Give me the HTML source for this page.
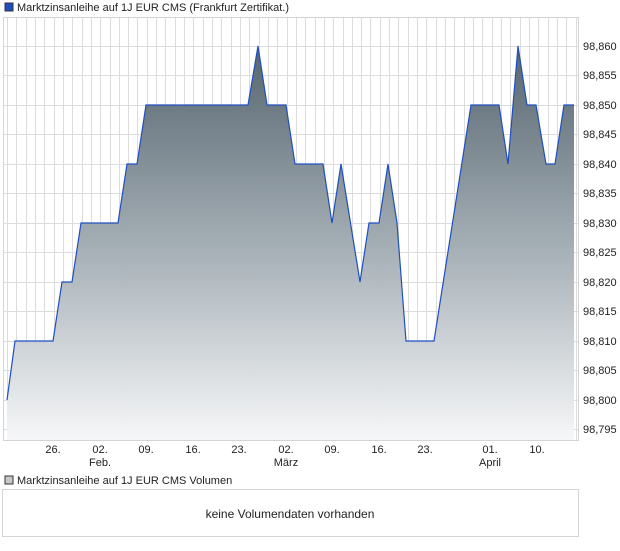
<!DOCTYPE html>
<html><head><meta charset="utf-8"><style>
body{margin:0;background:#fff;font-family:"Liberation Sans",sans-serif;}
</style></head><body>
<svg width="620" height="546" xmlns="http://www.w3.org/2000/svg" font-family="Liberation Sans, sans-serif" font-size="11">
<defs>
<linearGradient id="g" x1="0" y1="46" x2="0" y2="440" gradientUnits="userSpaceOnUse">
<stop offset="0" stop-color="#56656f"/>
<stop offset="0.5" stop-color="#a3adb4"/>
<stop offset="1" stop-color="#f6f7f8"/>
</linearGradient>
</defs>
<rect x="5" y="3" width="8" height="8" fill="#1f4fbf" stroke="#333" stroke-width="1"/>
<text x="17" y="11" fill="#222">Marktzinsanleihe auf 1J EUR CMS (Frankfurt Zertifikat.)</text>
<g stroke="#dcdcdc" stroke-width="1">
<line x1="3" x2="578" y1="46.5" y2="46.5"/><line x1="3" x2="578" y1="75.5" y2="75.5"/><line x1="3" x2="578" y1="105.5" y2="105.5"/><line x1="3" x2="578" y1="134.5" y2="134.5"/><line x1="3" x2="578" y1="164.5" y2="164.5"/><line x1="3" x2="578" y1="193.5" y2="193.5"/><line x1="3" x2="578" y1="223.5" y2="223.5"/><line x1="3" x2="578" y1="252.5" y2="252.5"/><line x1="3" x2="578" y1="282.5" y2="282.5"/><line x1="3" x2="578" y1="311.5" y2="311.5"/><line x1="3" x2="578" y1="341.5" y2="341.5"/><line x1="3" x2="578" y1="370.5" y2="370.5"/><line x1="3" x2="578" y1="400.5" y2="400.5"/><line x1="3" x2="578" y1="429.5" y2="429.5"/>
</g>
<path stroke="#dcdcdc" stroke-width="1" fill="none" d="M7.5 17V440M16.5 17V440M26.5 17V440M35.5 17V440M44.5 17V440M54.5 17V440M63.5 17V440M72.5 17V440M82.5 17V440M91.5 17V440M100.5 17V440M110.5 17V440M119.5 17V440M128.5 17V440M137.5 17V440M147.5 17V440M156.5 17V440M165.5 17V440M175.5 17V440M184.5 17V440M193.5 17V440M203.5 17V440M212.5 17V440M221.5 17V440M231.5 17V440M240.5 17V440M249.5 17V440M259.5 17V440M268.5 17V440M277.5 17V440M287.5 17V440M296.5 17V440M305.5 17V440M315.5 17V440M324.5 17V440M333.5 17V440M343.5 17V440M352.5 17V440M361.5 17V440M370.5 17V440M380.5 17V440M389.5 17V440M398.5 17V440M408.5 17V440M417.5 17V440M426.5 17V440M436.5 17V440M445.5 17V440M454.5 17V440M464.5 17V440M473.5 17V440M482.5 17V440M492.5 17V440M501.5 17V440M510.5 17V440M520.5 17V440M529.5 17V440M538.5 17V440M548.5 17V440M557.5 17V440M566.5 17V440M576.5 17V440"/>
<path d="M7,400 L15,341 L53,341 L62,282 L72,282 L81,223 L118,223 L127,164 L137,164 L146,105 L248,105 L258,46 L267,105 L286,105 L295,164 L323,164 L332,223 L341,164 L360,282 L369,223 L379,223 L388,164 L397,223 L406,341 L434,341 L471,105 L499,105 L508,164 L518,46 L527,105 L536,105 L546,164 L555,164 L564,105 L574,105 L574,440 L7,440 Z" fill="url(#g)"/>
<path d="M7,400 L15,341 L53,341 L62,282 L72,282 L81,223 L118,223 L127,164 L137,164 L146,105 L248,105 L258,46 L267,105 L286,105 L295,164 L323,164 L332,223 L341,164 L360,282 L369,223 L379,223 L388,164 L397,223 L406,341 L434,341 L471,105 L499,105 L508,164 L518,46 L527,105 L536,105 L546,164 L555,164 L564,105 L574,105" fill="none" stroke="#1f4fbf" stroke-width="1.2"/>
<rect x="3.5" y="17.5" width="575" height="423" fill="none" stroke="#d4d4d4"/>
<g fill="#222" text-anchor="start">
<text x="583" y="50">98,860</text><text x="583" y="79">98,855</text><text x="583" y="109">98,850</text><text x="583" y="138">98,845</text><text x="583" y="168">98,840</text><text x="583" y="197">98,835</text><text x="583" y="227">98,830</text><text x="583" y="256">98,825</text><text x="583" y="286">98,820</text><text x="583" y="315">98,815</text><text x="583" y="345">98,810</text><text x="583" y="374">98,805</text><text x="583" y="404">98,800</text><text x="583" y="433">98,795</text>
</g>
<g fill="#222" text-anchor="middle">
<text x="53" y="453">26.</text><text x="100" y="453">02.</text><text x="100" y="466">Feb.</text><text x="146" y="453">09.</text><text x="193" y="453">16.</text><text x="239" y="453">23.</text><text x="286" y="453">02.</text><text x="286" y="466">März</text><text x="332" y="453">09.</text><text x="379" y="453">16.</text><text x="425" y="453">23.</text><text x="490" y="453">01.</text><text x="490" y="466">April</text><text x="537" y="453">10.</text>
</g>
<rect x="5" y="476" width="8" height="8" fill="#c8c8c8" stroke="#333" stroke-width="1"/>
<text x="17" y="484" fill="#222">Marktzinsanleihe auf 1J EUR CMS Volumen</text>
<rect x="2.5" y="489.5" width="576" height="47" fill="#fff" stroke="#d4d4d4"/>
<text x="290" y="518" text-anchor="middle" font-size="12" fill="#222">keine Volumendaten vorhanden</text>
</svg>
</body></html>
